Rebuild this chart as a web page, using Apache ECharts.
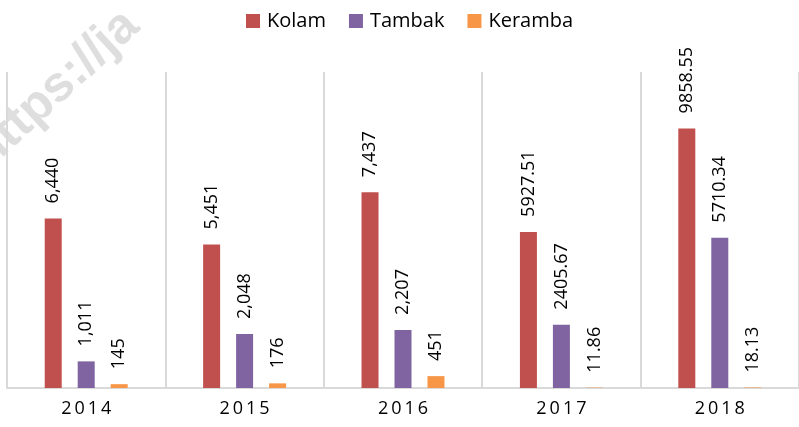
<!DOCTYPE html>
<html>
<head>
<meta charset="utf-8">
<script src="https://cdn.jsdelivr.net/npm/echarts@6/dist/echarts.min.js"></script>
<style>
  html, body { margin: 0; padding: 0; background: #fff; }
  #chart { width: 799px; height: 427px; }
</style>
</head>
<body>
<div id="chart"></div>
<script>
var years = ["2014", "2015", "2016", "2017", "2018"];
var kolam = [6440, 5451, 7437, 5927.51, 9858.55];
var tambak = [1011, 2048, 2207, 2405.67, 5710.34];
var keramba = [145, 176, 451, 11.86, 18.13];

var font = "'Open Sans', 'Noto Sans', sans-serif";

// 2014-2016 shown as rounded with thousands separator, 2017-2018 with two decimals
function fmt(p) {
    if (p.dataIndex < 3) {
        return Math.round(p.value).toLocaleString("en-US");
    }
    return p.value.toFixed(2);
}

function makeSeries(name, data, color) {
    return {
        name: name,
        type: "bar",
        data: data,
        barWidth: 17,
        barGap: "94%",
        itemStyle: { color: color },
        label: {
            show: true,
            position: "top",
            rotate: 90,
            align: "left",
            verticalAlign: "middle",
            distance: 15,
            fontFamily: font,
            fontSize: 18,
            color: "#000",
            formatter: fmt
        }
    };
}

var option = {
    animation: false,
    backgroundColor: "#fff",
    legend: {
        top: 6,
        left: 241,
        itemWidth: 14,
        itemHeight: 14,
        itemGap: 23,
        icon: "rect",
        textStyle: { fontFamily: font, fontSize: 20, color: "#000", padding: [0, 0, 0, 2] }
    },
    grid: { left: 7, top: 72, width: 795, bottom: 39 },
    xAxis: {
        type: "category",
        data: years,
        axisLine: { lineStyle: { color: "#d9d9d9", width: 2 } },
        axisTick: { show: false },
        splitLine: { show: true, lineStyle: { color: "#d9d9d9", width: 2 } },
        axisLabel: {
            margin: 12,
            fontFamily: font,
            fontSize: 18,
            color: "#000",
            formatter: function (v) { return v.split("").join("\u2009"); }
        }
    },
    yAxis: {
        type: "value",
        min: 0,
        max: 12000,
        show: false,
        splitLine: { show: false }
    },
    graphic: [{
        type: "text",
        rotation: Math.PI / 4.2,
        x: -38,
        y: 142,
        style: {
            text: "https://ja",
            fontFamily: "'Liberation Sans', Arial, sans-serif",
            fontWeight: "bold",
            fontSize: 50,
            fill: "rgba(205,205,205,0.65)"
        },
        z: -1
    }],
    series: [
        makeSeries("Kolam", kolam, "#c0504d"),
        makeSeries("Tambak", tambak, "#8064a2"),
        makeSeries("Keramba", keramba, "#f79646")
    ]
};

echarts.init(document.getElementById("chart")).setOption(option);
</script>
</body>
</html>
